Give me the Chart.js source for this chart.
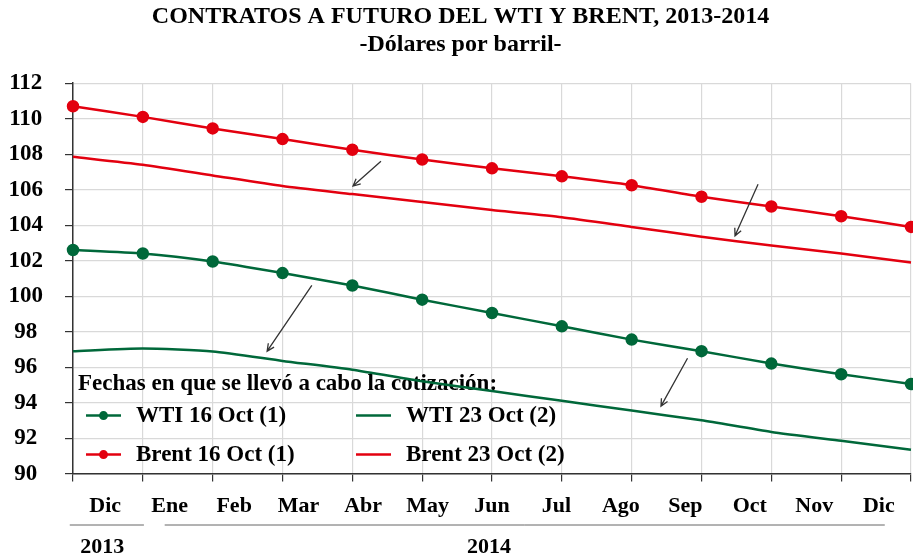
<!DOCTYPE html>
<html lang="es">
<head>
<meta charset="UTF-8">
<title>Contratos a futuro del WTI y Brent</title>
<script src="https://cdn.jsdelivr.net/npm/chart.js"></script>
<style>
  body { margin: 0; background: #fff; }
  canvas { display: block; }
</style>
</head>
<body>
<canvas id="futuros" width="913" height="558"></canvas>
<script>
// categories and series
const months = ['Dic', 'Ene', 'Feb', 'Mar', 'Abr', 'May', 'Jun', 'Jul', 'Ago', 'Sep', 'Oct', 'Nov', 'Dic'];
const years = ['2013', '2014'];
const wti16 = [102.6, 102.4, 101.95, 101.3, 100.6, 99.8, 99.05, 98.3, 97.55, 96.9, 96.2, 95.6, 95.05];
const wti23 = [96.9, 97.05, 96.88, 96.35, 95.85, 95.2, 94.65, 94.1, 93.55, 93.0, 92.35, 91.85, 91.35];
const brent16 = [110.7, 110.1, 109.45, 108.85, 108.25, 107.7, 107.2, 106.75, 106.25, 105.6, 105.05, 104.5, 103.9];
const brent23 = [107.85, 107.4, 106.8, 106.2, 105.75, 105.3, 104.85, 104.45, 103.9, 103.35, 102.85, 102.4, 101.9];
const legendTitle = 'Fechas en que se llevó a cabo la cotización:';

// small arrows from the 16 Oct curves down to the 23 Oct curves (x = month index, y = dollars)
const arrows = [
  [4.41, 107.6, 4.01, 106.2],
  [9.81, 106.3, 9.48, 103.4],
  [3.42, 100.6, 2.78, 96.9],
  [8.80, 96.5, 8.42, 93.8]
];

const GREEN = '#00683a';
const RED = '#e3000f';
const SERIF = "'Liberation Serif', 'Times New Roman', serif";

function line(label, data, color, dots) {
  return {
    label: label,
    data: data,
    borderColor: color,
    backgroundColor: color,
    borderWidth: 2.5,
    pointRadius: dots ? 5 : 0,
    pointHoverRadius: dots ? 5 : 0,
    tension: 0.2,
    clip: 8,
    xAxisID: 'x',
    yAxisID: 'y'
  };
}

// legend drawn inside the plot area, two columns
const insideLegend = {
  id: 'insideLegend',
  beforeDatasetsDraw(chart) {
    const ctx = chart.ctx;
    const area = chart.chartArea;
    ctx.save();
    ctx.font = 'bold 23px ' + SERIF;
    ctx.fillStyle = '#000';
    ctx.textBaseline = 'middle';
    ctx.textAlign = 'left';
    ctx.fillText(legendTitle, area.left + 5, area.bottom - 90);
    chart.data.datasets.forEach((ds, i) => {
      const col = i % 2, row = Math.floor(i / 2);
      const x = area.left + 13 + col * 270;
      const y = area.bottom - 58 + row * 39;
      ctx.strokeStyle = ds.borderColor;
      ctx.lineWidth = 2.5;
      ctx.beginPath();
      ctx.moveTo(x, y);
      ctx.lineTo(x + 35, y);
      ctx.stroke();
      if (ds.pointRadius > 0) {
        ctx.fillStyle = ds.backgroundColor;
        ctx.beginPath();
        ctx.arc(x + 17.5, y, 4.5, 0, Math.PI * 2);
        ctx.fill();
      }
      ctx.fillStyle = '#000';
      ctx.fillText(ds.label, x + 50, y);
    });
    ctx.restore();
  }
};

const arrowMarks = {
  id: 'arrowMarks',
  afterDatasetsDraw(chart) {
    const ctx = chart.ctx;
    const xs = chart.scales.x, ys = chart.scales.y;
    ctx.save();
    ctx.strokeStyle = '#333';
    ctx.lineWidth = 1.3;
    arrows.forEach(a => {
      const x1 = xs.getPixelForValue(a[0]), y1 = ys.getPixelForValue(a[1]);
      const x2 = xs.getPixelForValue(a[2]), y2 = ys.getPixelForValue(a[3]);
      const ang = Math.atan2(y2 - y1, x2 - x1);
      ctx.beginPath();
      ctx.moveTo(x1, y1);
      ctx.lineTo(x2, y2);
      ctx.moveTo(x2 - 8 * Math.cos(ang - 0.45), y2 - 8 * Math.sin(ang - 0.45));
      ctx.lineTo(x2, y2);
      ctx.lineTo(x2 - 8 * Math.cos(ang + 0.45), y2 - 8 * Math.sin(ang + 0.45));
      ctx.stroke();
    });
    ctx.restore();
  }
};

// year labels under the month labels
const yearRow = {
  id: 'yearRow',
  afterDraw(chart) {
    const ctx = chart.ctx;
    const sc = chart.scales.x2;
    const half = (sc.getPixelForValue(1) - sc.getPixelForValue(0)) / 2;
    const lineY = sc.bottom - 7;
    const textY = sc.bottom + 15;
    const spans = [
      [sc.getPixelForValue(0) - half * 1.1, sc.getPixelForValue(0) + half * 1.2, sc.getPixelForValue(0) - 3],
      [sc.getPixelForValue(1) - 5, sc.getPixelForValue(12) + 6, sc.getPixelForValue(6) - 3]
    ];
    ctx.save();
    ctx.strokeStyle = '#666';
    ctx.lineWidth = 1;
    ctx.font = 'bold 22px ' + SERIF;
    ctx.fillStyle = '#000';
    ctx.textAlign = 'center';
    ctx.textBaseline = 'middle';
    spans.forEach((s, i) => {
      ctx.beginPath();
      ctx.moveTo(s[0], lineY);
      ctx.lineTo(s[1], lineY);
      ctx.stroke();
      ctx.fillText(years[i], s[2], textY);
    });
    ctx.restore();
  }
};

new Chart(document.getElementById('futuros'), {
  type: 'line',
  data: {
    labels: months,
    datasets: [
      line('WTI 16 Oct (1)', wti16, GREEN, true),
      line('WTI 23 Oct (2)', wti23, GREEN, false),
      line('Brent 16 Oct (1)', brent16, RED, true),
      line('Brent 23 Oct (2)', brent23, RED, false)
    ]
  },
  options: {
    responsive: false,
    animation: false,
    layout: { autoPadding: false, padding: { left: 10, right: 2, top: 0, bottom: 26 } },
    plugins: {
      legend: { display: false },
      tooltip: { enabled: false },
      title: {
        display: true,
        text: ['CONTRATOS A FUTURO DEL WTI Y BRENT, 2013-2014', '-Dólares por barril-'],
        color: '#000',
        font: { family: SERIF, size: 24, weight: 'bold', lineHeight: 1.17 },
        padding: { top: 3, bottom: 24 }
      }
    },
    scales: {
      x: {
        type: 'category',
        offset: false,
        position: 'bottom',
        weight: 0,
        grid: { color: '#d9d9d9', tickColor: '#333', tickLength: 8, lineWidth: 1.2 },
        border: { color: '#333', width: 1.5 },
        ticks: { display: false }
      },
      x2: {
        type: 'category',
        labels: months,
        offset: true,
        position: 'bottom',
        weight: 1,
        grid: { display: false, drawTicks: false },
        border: { display: false },
        ticks: {
          color: '#000',
          autoSkip: false,
          maxRotation: 0,
          padding: 12,
          font: { family: SERIF, size: 22, weight: 'bold' }
        }
      },
      y: {
        min: 90,
        max: 112,
        afterFit: (scale) => { scale.width = 63; },
        grid: { color: '#d9d9d9', tickColor: '#333', tickLength: 8, lineWidth: 1.2 },
        border: { color: '#333', width: 1.5 },
        ticks: {
          stepSize: 2,
          color: '#000',
          padding: 22,
          crossAlign: 'center',
          font: { family: SERIF, size: 23, weight: 'bold' }
        }
      }
    }
  },
  plugins: [insideLegend, arrowMarks, yearRow]
});
</script>
</body>
</html>
